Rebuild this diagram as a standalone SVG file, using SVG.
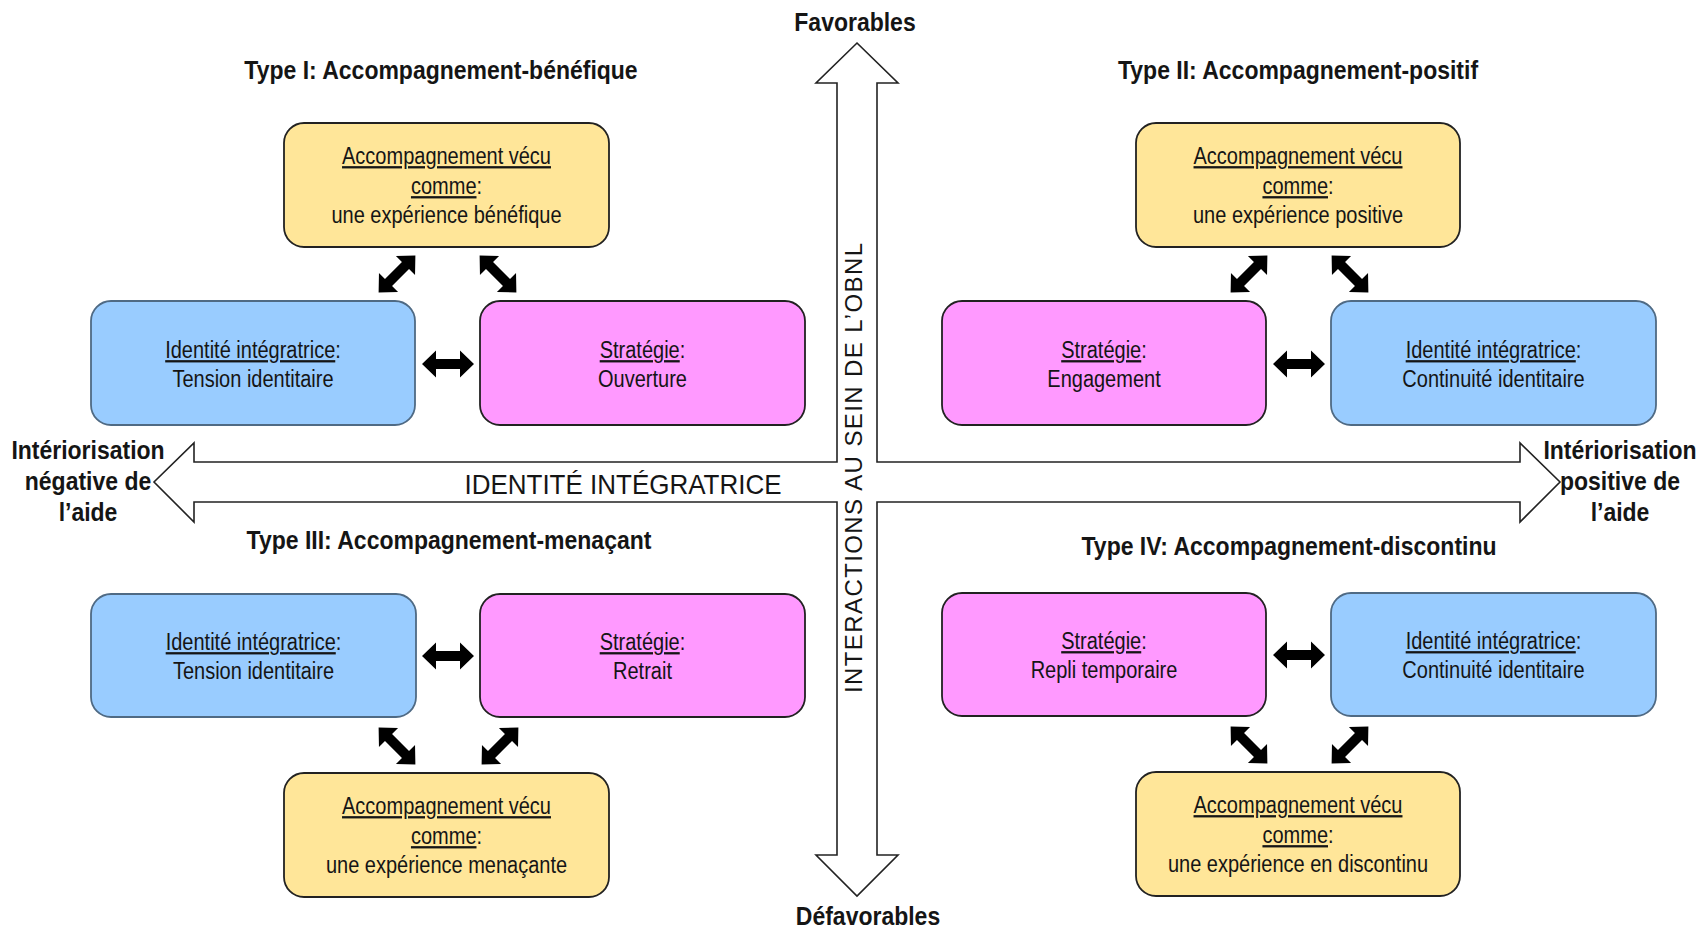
<svg xmlns="http://www.w3.org/2000/svg" xmlns:xlink="http://www.w3.org/1999/xlink" width="1705" height="932" viewBox="0 0 1705 932">
<defs>
<style>
.bx{stroke-width:1.8}
.yel{fill:#FFE699;stroke:#222}
.blu{fill:#99CCFF;stroke:#4f6a84}
.pnk{fill:#FF99FF;stroke:#222}
.t{font-family:"Liberation Sans",Arial,sans-serif;font-size:20px;fill:#151515;text-anchor:middle}
.u{text-decoration:underline}
.ttl{font-family:"Liberation Sans",Arial,sans-serif;font-size:23px;font-weight:bold;fill:#151515;text-anchor:middle}
.ax{font-family:"Liberation Sans",Arial,sans-serif;font-size:24px;fill:#151515;text-anchor:middle}
.axis{fill:#fff;stroke:#222;stroke-width:1.6;stroke-linejoin:miter}
.da{fill:#000}
</style>
<polygon id="dbl" points="-26,0 -12,-13.5 -12,-5 12,-5 12,-13.5 26,0 12,13.5 12,5 -12,5 -12,13.5"/>
</defs>
<rect width="1705" height="932" fill="#fff"/>

<g id="axes">
<path class="axis" d="M857 43 L898 83 L877 83 L877 462 L1520 462 L1520 443 L1560 482 L1520 522 L1520 502 L877 502 L877 855 L898 855 L857 896 L816 855 L837 855 L837 502 L194 502 L194 522 L154 482 L194 443 L194 462 L837 462 L837 83 L816 83 Z"/>
<text class="ax" style="font-size:26px" transform="matrix(1 0 0 1.08 623 494)">IDENTITÉ INTÉGRATRICE</text>
<text class="ax" transform="translate(862,468) rotate(-90)" x="0" y="0" textLength="450" lengthAdjust="spacing">INTERACTIONS AU SEIN DE L’OBNL</text>
<text class="ttl" transform="matrix(1 0 0 1.1 855 31)">Favorables</text>
<text class="ttl" transform="matrix(1 0 0 1.1 868 925)">Défavorables</text>
<text class="ttl" transform="matrix(1 0 0 1.1 88 459)">Intériorisation</text>
<text class="ttl" transform="matrix(1 0 0 1.1 88 490)">négative de</text>
<text class="ttl" transform="matrix(1 0 0 1.1 88 521)">l’aide</text>
<text class="ttl" transform="matrix(1 0 0 1.1 1620 459)">Intériorisation</text>
<text class="ttl" transform="matrix(1 0 0 1.1 1620 490)">positive de</text>
<text class="ttl" transform="matrix(1 0 0 1.1 1620 521)">l’aide</text>
</g>

<g id="titles">
<text class="ttl" transform="matrix(1 0 0 1.1 441 79)">Type I: Accompagnement-bénéfique</text>
<text class="ttl" transform="matrix(1 0 0 1.1 1298 79)">Type II: Accompagnement-positif</text>
<text class="ttl" transform="matrix(1 0 0 1.1 449 549)">Type III: Accompagnement-menaçant</text>
<text class="ttl" transform="matrix(1 0 0 1.1 1289 555)">Type IV: Accompagnement-discontinu</text>
</g>

<!-- Type I -->
<g id="t1-accomp">
<rect class="bx yel" x="284" y="123" width="325" height="124" rx="20"/>
<text class="t" transform="matrix(1 0 0 1.15 446.5 164)"><tspan class="u">Accompagnement vécu</tspan></text>
<text class="t" transform="matrix(1 0 0 1.15 446.5 194)"><tspan class="u">comme</tspan>:</text>
<text class="t" transform="matrix(1 0 0 1.15 446.5 223)">une expérience bénéfique</text>
</g>
<g id="t1-identite">
<rect class="bx blu" x="91" y="301" width="324" height="124" rx="20"/>
<text class="t" transform="matrix(1 0 0 1.15 253 358)"><tspan class="u">Identité intégratrice</tspan>:</text>
<text class="t" transform="matrix(1 0 0 1.15 253 387)">Tension identitaire</text>
</g>
<g id="t1-strategie">
<rect class="bx pnk" x="480" y="301" width="325" height="124" rx="20"/>
<text class="t" transform="matrix(1 0 0 1.15 642.5 358)"><tspan class="u">Stratégie</tspan>:</text>
<text class="t" transform="matrix(1 0 0 1.15 642.5 387)">Ouverture</text>
</g>

<!-- Type II -->
<g id="t2-accomp">
<rect class="bx yel" x="1136" y="123" width="324" height="124" rx="20"/>
<text class="t" transform="matrix(1 0 0 1.15 1298 164)"><tspan class="u">Accompagnement vécu</tspan></text>
<text class="t" transform="matrix(1 0 0 1.15 1298 194)"><tspan class="u">comme</tspan>:</text>
<text class="t" transform="matrix(1 0 0 1.15 1298 223)">une expérience positive</text>
</g>
<g id="t2-strategie">
<rect class="bx pnk" x="942" y="301" width="324" height="124" rx="20"/>
<text class="t" transform="matrix(1 0 0 1.15 1104 358)"><tspan class="u">Stratégie</tspan>:</text>
<text class="t" transform="matrix(1 0 0 1.15 1104 387)">Engagement</text>
</g>
<g id="t2-identite">
<rect class="bx blu" x="1331" y="301" width="325" height="124" rx="20"/>
<text class="t" transform="matrix(1 0 0 1.15 1493.5 358)"><tspan class="u">Identité intégratrice</tspan>:</text>
<text class="t" transform="matrix(1 0 0 1.15 1493.5 387)">Continuité identitaire</text>
</g>

<!-- Type III -->
<g id="t3-identite">
<rect class="bx blu" x="91" y="594" width="325" height="123" rx="20"/>
<text class="t" transform="matrix(1 0 0 1.15 253.5 650)"><tspan class="u">Identité intégratrice</tspan>:</text>
<text class="t" transform="matrix(1 0 0 1.15 253.5 679)">Tension identitaire</text>
</g>
<g id="t3-strategie">
<rect class="bx pnk" x="480" y="594" width="325" height="123" rx="20"/>
<text class="t" transform="matrix(1 0 0 1.15 642.5 650)"><tspan class="u">Stratégie</tspan>:</text>
<text class="t" transform="matrix(1 0 0 1.15 642.5 679)">Retrait</text>
</g>
<g id="t3-accomp">
<rect class="bx yel" x="284" y="773" width="325" height="124" rx="20"/>
<text class="t" transform="matrix(1 0 0 1.15 446.5 814)"><tspan class="u">Accompagnement vécu</tspan></text>
<text class="t" transform="matrix(1 0 0 1.15 446.5 844)"><tspan class="u">comme</tspan>:</text>
<text class="t" transform="matrix(1 0 0 1.15 446.5 873)">une expérience menaçante</text>
</g>

<!-- Type IV -->
<g id="t4-strategie">
<rect class="bx pnk" x="942" y="593" width="324" height="123" rx="20"/>
<text class="t" transform="matrix(1 0 0 1.15 1104 649)"><tspan class="u">Stratégie</tspan>:</text>
<text class="t" transform="matrix(1 0 0 1.15 1104 678)">Repli temporaire</text>
</g>
<g id="t4-identite">
<rect class="bx blu" x="1331" y="593" width="325" height="123" rx="20"/>
<text class="t" transform="matrix(1 0 0 1.15 1493.5 649)"><tspan class="u">Identité intégratrice</tspan>:</text>
<text class="t" transform="matrix(1 0 0 1.15 1493.5 678)">Continuité identitaire</text>
</g>
<g id="t4-accomp">
<rect class="bx yel" x="1136" y="772" width="324" height="124" rx="20"/>
<text class="t" transform="matrix(1 0 0 1.15 1298 813)"><tspan class="u">Accompagnement vécu</tspan></text>
<text class="t" transform="matrix(1 0 0 1.15 1298 843)"><tspan class="u">comme</tspan>:</text>
<text class="t" transform="matrix(1 0 0 1.15 1298 872)">une expérience en discontinu</text>
</g>

<g id="connectors" class="da">
<use xlink:href="#dbl" transform="translate(397,274) rotate(-45)"/>
<use xlink:href="#dbl" transform="translate(498,274) rotate(45)"/>
<use xlink:href="#dbl" transform="translate(448,364)"/>
<use xlink:href="#dbl" transform="translate(1249,274) rotate(-45)"/>
<use xlink:href="#dbl" transform="translate(1350,274) rotate(45)"/>
<use xlink:href="#dbl" transform="translate(1299,364)"/>
<use xlink:href="#dbl" transform="translate(448,656)"/>
<use xlink:href="#dbl" transform="translate(397,746) rotate(45)"/>
<use xlink:href="#dbl" transform="translate(500,746) rotate(-45)"/>
<use xlink:href="#dbl" transform="translate(1299,655)"/>
<use xlink:href="#dbl" transform="translate(1249,745) rotate(45)"/>
<use xlink:href="#dbl" transform="translate(1350,745) rotate(-45)"/>
</g>
</svg>
